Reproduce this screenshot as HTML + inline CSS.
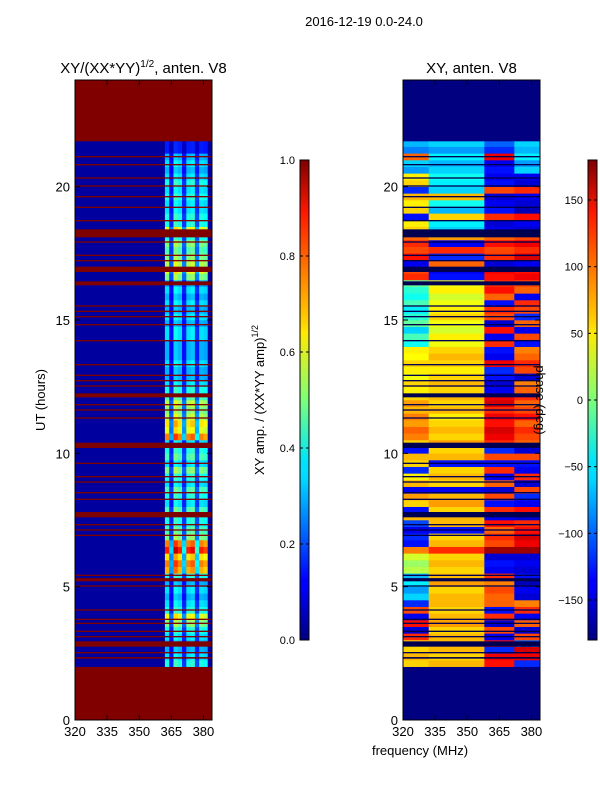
<!DOCTYPE html>
<html><head><meta charset="utf-8">
<style>
body{margin:0;background:#fff;}
svg text{font-family:"Liberation Sans",sans-serif;fill:#000;}
</style></head>
<body>
<svg id="fig" width="600" height="800" xmlns="http://www.w3.org/2000/svg">
<defs>
<linearGradient id="jetG" x1="0" y1="1" x2="0" y2="0">
<stop offset="0" stop-color="#00007f"/><stop offset="0.11" stop-color="#0000ff"/><stop offset="0.125" stop-color="#0000ff"/>
<stop offset="0.34" stop-color="#00dcff"/><stop offset="0.375" stop-color="#00e5f8"/><stop offset="0.5" stop-color="#7dff7a"/>
<stop offset="0.64" stop-color="#ffea00"/><stop offset="0.66" stop-color="#ffd400"/><stop offset="0.89" stop-color="#ff1800"/><stop offset="1" stop-color="#7f0000"/>
</linearGradient>
</defs>
<text x="364" y="26" font-size="13" text-anchor="middle">2016-12-19 0.0-24.0</text>
<g id="left"></g>
<g id="right"></g>
<g id="cbars"></g>
</svg>
<script>
const t0 = 2.0, dt = 0.25;
const ampBand = [0.4,0.35,0.3,0.3, 0.35,0.4,0.5,0.6,0.4,0.35, 0.3,0.35,0.3,0.4, 0.7,0.75,0.65, 0.85, 0.75,0.5,0.45,0.4,
 0.4,0.45,0.35,0.4,0.45,0.35,0.4,0.5,0.35,0.45,0.4,0.35, 0.75,0.6,0.65,0.55,0.5,0.55,0.45, 0.4,0.35,0.3,0.3,0.35,0.3,0.3,
 0.3,0.35,0.35,0.3,0.35,0.3,0.35,0.3,0.35,0.3, 0.5,0.6,0.55,0.5,0.45,0.5,0.4, 0.6,0.4,0.4,0.35,0.35,0.4,0.35,0.4,0.35, 0.3,0.35,0.3,0.15,0.15];
const ampBackground = 0.03;
const bandFactor = [1.0,0.4,1.1,1.0,0.45,1.0,1.05,0.5,1.0,0.95];
const phaseA = [60,70,60,60, 120,-150,130,-140,110,-120, -60,-80,-50,-70, 20,10,30, 90, -130,-120,-140,-110,
 70,-130,60,80,-140,70,50,-120,60,70,-130,60, 90,100,80,90,70,80,60, 50,60,40,50,60,45,50,
 -40,-20,-60,-10,-30,-50,-20,-40,-30,-10, 120,110,-140,130,110,120,100, 60,50,-130,60,50,70,-120,60,50, -80,-60,100,-90,-70];
const phaseB = [70,60,70,70, 70,60,80,70,60,70, 70,60,80,70, 60,70,60, 120, 70,60,-130,70,
 70,60,80,70,-140,60,70,60,-130,70,60,80, 60,70,60,50,70,60,70, 60,70,60,50,60,70,60,
 40,50,30,40,60,50,40,30,50,40, -130,-140,100,-120,120,-140,80, -60,-50,60,-70,-40,70,-60,-50,-40, -60,-70,-50,-80,-60];
const phaseC = [130,140,-120,130, -140,110,-150,120,-130,100, 100,110,90,120, -140,-130,-150, 170, 110,120,100,130,
 -140,120,-130,110,-150,100,-140,120,-130,110,-120,120, 140,150,130,140,120,150,140, -140,-150,-130,-120,140,-140,-130,
 120,-140,130,-150,110,120,-130,100,130,120, 130,140,-150,120,110,130,100, -140,-150,120,-130,-140,-150,110,-130,-140, -130,-140,140,-120,-100];
const phaseD = [-120,140,150,-100, 110,-150,100,-140,120,90, -150,-140,-160,-130, -150,-140,-150, 170, 140,150,130,120,
 -150,130,-140,-120,110,-150,120,-140,-130,110,-150,100, 110,120,100,130,110,100,120, 100,90,-150,110,120,100,90,
 -130,110,-140,100,-120,110,120,-140,100,110, 140,130,-140,150,120,140,110, -150,-140,130,-160,-150,-140,120,-150,-140, -60,-80,-50,-70,-60];
const phaseGroups = [[320,332],[332,358],[358,372],[372,384]];
const flags = [[2.3,2.36],[2.5,2.55],[2.75,2.95],[3.1,3.15],[3.3,3.35],[3.6,3.65],[3.75,3.8],[4.1,4.15],[5.0,5.05],[5.2,5.32],[5.4,5.45],
 [6.9,6.95],[7.1,7.15],[7.3,7.35],[7.6,7.8],[8.25,8.3],[8.5,8.55],[8.9,8.95],[9.1,9.15],[9.6,9.65],[10.2,10.4],[11.3,11.35],[11.6,11.65],
 [11.8,11.85],[12.1,12.25],[12.5,12.55],[12.7,12.75],[12.9,12.95],[13.3,13.35],[14.2,14.25],[14.8,14.85],[15.1,15.15],[15.3,15.35],[15.5,15.55],
 [16.3,16.45],[16.8,17.0],[17.2,17.25],[17.4,17.45],[17.9,17.95],[18.1,18.4],[18.7,18.75],[19.2,19.25],[19.6,19.65],[20.0,20.05],[20.3,20.35],[20.8,20.85],[21.1,21.15]];
const dataStart = 2.0, dataEnd = 21.7;
const xTicks = [320,335,350,365,380];
const yTicks = [0,5,10,15,20];
const ampTicks = [0.0,0.2,0.4,0.6,0.8,1.0];
const phaseTicks = [-150,-100,-50,0,50,100,150];

const NS = "http://www.w3.org/2000/svg";
const PY0 = 80, PY1 = 720, PW = 137;
function yH(h){ return PY1 - h*(PY1-PY0)/24; }
function xF(f, x0){ return x0 + (f-320)*PW/64; }
function jet(v){
  v = Math.max(0, Math.min(1, v));
  const r = Math.max(0, Math.min(1, 1.5 - Math.abs(4*v-3)));
  const g = Math.max(0, Math.min(1, 1.5 - Math.abs(4*v-2)));
  const b = Math.max(0, Math.min(1, 1.5 - Math.abs(4*v-1)));
  return `rgb(${Math.round(r*255)},${Math.round(g*255)},${Math.round(b*255)})`;
}
function mk(tag, attrs, parent){ const e=document.createElementNS(NS,tag); for(const k in attrs) e.setAttribute(k,attrs[k]); parent.appendChild(e); return e; }

function axes(g, x0, title){
  for(const f of xTicks){
    const x = xF(f,x0);
    let t=mk('line',{x1:x,x2:x,y1:PY1,y2:PY1-5,stroke:'#000'},g);
     
    mk('line',{x1:x,x2:x,y1:PY0,y2:PY0+5,stroke:'#000'},g);
    const l=mk('text',{x:x,y:PY1+16,'font-size':13,'text-anchor':'middle'},g); l.textContent=f;
     
  }
  for(const h of yTicks){
    const y=yH(h);
    mk('line',{x1:x0,x2:x0+5,y1:y,y2:y,stroke:'#000'},g);
    mk('line',{x1:x0+PW,x2:x0+PW-5,y1:y,y2:y,stroke:'#000'},g);
    const l=mk('text',{x:x0-5,y:y+5,'font-size':13,'text-anchor':'end'},g); l.textContent=h;
     
  }
  const fr=mk('rect',{x:x0,y:PY0,width:PW,height:PY1-PY0,fill:'none',stroke:'#000'},g);
   
  const tt=mk('text',{x:x0+PW/2,y:PY0-7,'font-size':15,'text-anchor':'middle'},g); tt.innerHTML=title;
   
}

(function(){
  const g=document.getElementById('left'), x0=75;
  let r=mk('rect',{x:x0,y:PY0,width:PW,height:PY1-PY0,fill:jet(1)},g);
   
  for(let i=0;i<ampBand.length;i++){
    const h0=t0+i*dt, h1=Math.min(h0+dt,dataEnd);
    for(let c=0;c<32;c++){
      const f0=320+c*2;
      let v=ampBackground;
      if(c>=21 && c<=30) v=ampBand[i]*bandFactor[c-21];
      const cell=mk('rect',{x:xF(f0,x0),y:yH(h1),width:PW/32+0.3,height:yH(h0)-yH(h1)+0.3,fill:jet(v)},g);
       
    }
  }
  for(const [a,b] of flags){
    const y=yH(b), hgt=Math.max(1.3,yH(a)-yH(b));
    const fl=mk('rect',{x:x0,y:y,width:PW,height:hgt,fill:'#7f0000'},g);
     
  }
  axes(g,x0,'XY/(XX*YY)<tspan dy="-6" font-size="10">1/2</tspan><tspan dy="6">, anten. V8</tspan>');
  const yl=mk('text',{x:0,y:0,'font-size':13,'text-anchor':'middle',transform:'translate(45,400) rotate(-90)'},g);
  yl.textContent='UT (hours)';
   
})();

(function(){
  const g=document.getElementById('right'), x0=403;
  let r=mk('rect',{x:x0,y:PY0,width:PW,height:PY1-PY0,fill:jet(0)},g);
   
  const series=[phaseA,phaseB,phaseC,phaseD];
  for(let i=0;i<phaseA.length;i++){
    const h0=t0+i*dt, h1=Math.min(h0+dt,dataEnd);
    for(let k=0;k<4;k++){
      const [f0,f1]=phaseGroups[k];
      const cell=mk('rect',{x:xF(f0,x0),y:yH(h1),width:xF(f1,x0)-xF(f0,x0)+0.3,height:yH(h0)-yH(h1)+0.3,fill:jet((series[k][i]+180)/360)},g);
       
    }
  }
  for(const [a,b] of flags){
    const y=yH(b), hgt=Math.max(1.3,yH(a)-yH(b));
    const fl=mk('rect',{x:x0,y:y,width:PW,height:hgt,fill:'#000050'},g);
     
  }
  axes(g,x0,'XY, anten. V8');
  const xl=mk('text',{x:420,y:755,'font-size':13,'text-anchor':'middle'},g);
  xl.textContent='frequency (MHz)';
   
})();

(function(){
  const g=document.getElementById('cbars');
  function cbar(x, ticks, lo, hi, fmt, name){
    const b=mk('rect',{x:x,y:160,width:9,height:480,fill:'url(#jetG)',stroke:'#000'},g);
     
    for(const t of ticks){
      const y=640-(t-lo)/(hi-lo)*480;
      mk('line',{x1:x,x2:x+3,y1:y,y2:y,stroke:'#000'},g);
      mk('line',{x1:x+9,x2:x+6,y1:y,y2:y,stroke:'#000'},g);
      const l=mk('text',{x:x-5,y:y+4,'font-size':11,'text-anchor':'end'},g); l.textContent=fmt(t);
       
    }
  }
  cbar(300, ampTicks, 0, 1, t=>t.toFixed(1), 'amplitude-colorbar');
  cbar(588, phaseTicks, -180, 180, t=>(t<0?'\u2212'+(-t):''+t), 'phase-colorbar');
  const l1=mk('text',{x:0,y:0,'font-size':13,'text-anchor':'middle',transform:'translate(264,400) rotate(-90)'},g);
  l1.innerHTML='XY amp. / (XX*YY amp)<tspan dy="-6" font-size="9">1/2</tspan>';
   
  const l2=mk('text',{x:0,y:0,'font-size':13,'text-anchor':'middle',transform:'translate(536,400) rotate(90)'},g);
  l2.textContent='phase (deg)';
   
})();
</script>
</body></html>
